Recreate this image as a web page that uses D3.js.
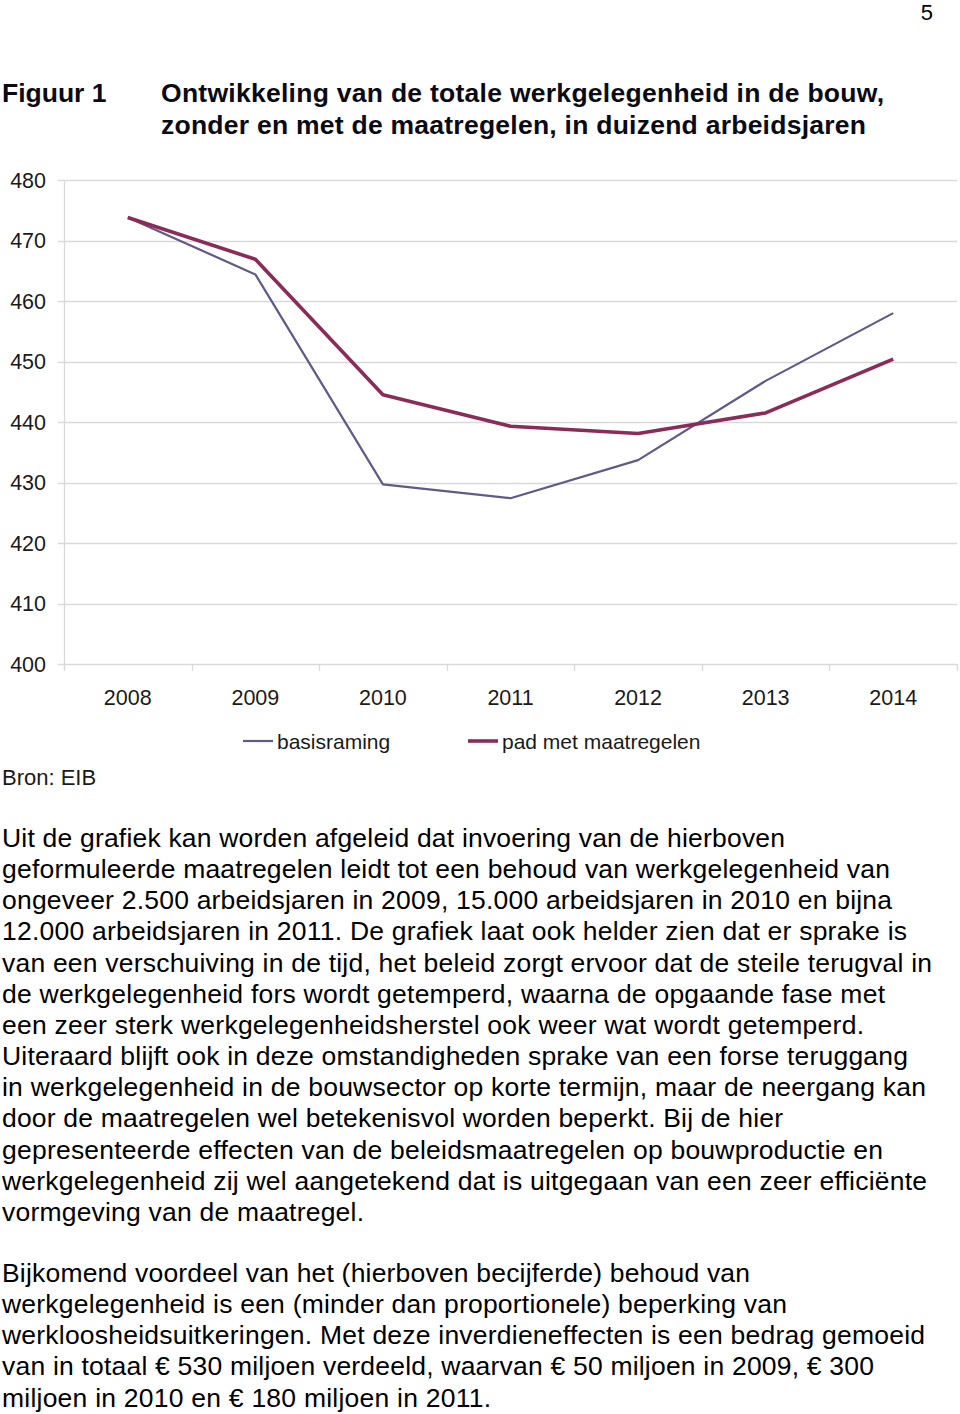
<!DOCTYPE html>
<html>
<head>
<meta charset="utf-8">
<script src="https://cdn.jsdelivr.net/npm/d3@7"></script>
<style>
html,body{margin:0;padding:0;background:#fff;}
svg{display:block;font-family:"Liberation Sans",Arial,sans-serif;}
</style>
</head>
<body>
<svg id="page" width="960" height="1414"></svg>
<script>
// ---- data ----
const years = ["2008","2009","2010","2011","2012","2013","2014"];
const basisraming = [473.8, 464.4, 429.7, 427.4, 433.7, 446.8, 458.0];
const padMetMaatregelen = [473.8, 466.9, 444.5, 439.3, 438.1, 441.5, 450.4];
const yTicks = [400, 410, 420, 430, 440, 450, 460, 470, 480];
const seriesNames = ["basisraming", "pad met maatregelen"];

const titleLines = ["Ontwikkeling van de totale werkgelegenheid in de bouw,",
                    "zonder en met de maatregelen, in duizend arbeidsjaren"];
const para1 = [
 "Uit de grafiek kan worden afgeleid dat invoering van de hierboven",
 "geformuleerde maatregelen leidt tot een behoud van werkgelegenheid van",
 "ongeveer 2.500 arbeidsjaren in 2009, 15.000 arbeidsjaren in 2010 en bijna",
 "12.000 arbeidsjaren in 2011. De grafiek laat ook helder zien dat er sprake is",
 "van een verschuiving in de tijd, het beleid zorgt ervoor dat de steile terugval in",
 "de werkgelegenheid fors wordt getemperd, waarna de opgaande fase met",
 "een zeer sterk werkgelegenheidsherstel ook weer wat wordt getemperd.",
 "Uiteraard blijft ook in deze omstandigheden sprake van een forse teruggang",
 "in werkgelegenheid in de bouwsector op korte termijn, maar de neergang kan",
 "door de maatregelen wel betekenisvol worden beperkt. Bij de hier",
 "gepresenteerde effecten van de beleidsmaatregelen op bouwproductie en",
 "werkgelegenheid zij wel aangetekend dat is uitgegaan van een zeer efficiënte",
 "vormgeving van de maatregel."
];
const para2 = [
 "Bijkomend voordeel van het (hierboven becijferde) behoud van",
 "werkgelegenheid is een (minder dan proportionele) beperking van",
 "werkloosheidsuitkeringen. Met deze inverdieneffecten is een bedrag gemoeid",
 "van in totaal € 530 miljoen verdeeld, waarvan € 50 miljoen in 2009, € 300",
 "miljoen in 2010 en € 180 miljoen in 2011."
];
// layout: right edges of text lines in the page
const titleRight = [884, 866];
const para1Right = [785, 890, 892, 907, 932, 885, 864, 908, 926, 783, 883, 927, 364];
const para2Right = [750, 787, 925, 874, 491];

// ---- drawing ----
const svg = d3.select("#page");

svg.append("text").attr("x", 933).attr("y", 20).attr("text-anchor", "end")
  .attr("font-size", 22).attr("fill", "#000").text("5");

svg.append("text").attr("x", 2).attr("y", 102).attr("font-size", 26.5)
  .attr("font-weight", "bold").attr("fill", "#0a0a14").text("Figuur 1");
titleLines.forEach((t, i) => {
  svg.append("text").attr("x", 161).attr("y", 102 + i * 32).attr("font-size", 26.5)
    .attr("font-weight", "bold").attr("fill", "#0a0a14")
    .attr("textLength", titleRight[i] - 161).attr("lengthAdjust", "spacing")
    .text(t);
});

const x = d3.scaleBand().domain(years).range([64, 957]).paddingInner(0).paddingOuter(0);
const y = d3.scaleLinear().domain([400, 480]).range([664, 180]);

const g = svg.append("g");

// gridlines
g.append("g").selectAll("line").data(yTicks).join("line")
  .attr("x1", 58).attr("x2", 957)
  .attr("y1", d => Math.round(y(d)) + 0.5).attr("y2", d => Math.round(y(d)) + 0.5)
  .attr("stroke", "#d9d9d9").attr("stroke-width", 1.3);

// y axis line
g.append("line").attr("x1", 64.5).attr("x2", 64.5).attr("y1", y(480)).attr("y2", 670)
  .attr("stroke", "#d9d9d9").attr("stroke-width", 1.3);

// y tick labels
g.append("g").selectAll("text").data(yTicks).join("text")
  .attr("x", 46).attr("y", d => y(d)).attr("dy", "0.36em")
  .attr("text-anchor", "end").attr("font-size", 21.5).attr("fill", "#1a1a1a")
  .text(d => d);

// x ticks at band boundaries
const bounds = years.map(d => x(d)).concat([x(years[years.length - 1]) + x.bandwidth()]);
g.append("g").selectAll("line").data(bounds).join("line")
  .attr("x1", d => Math.round(d) + 0.5).attr("x2", d => Math.round(d) + 0.5)
  .attr("y1", y(400)).attr("y2", y(400) + 7)
  .attr("stroke", "#d9d9d9").attr("stroke-width", 1.3);

// x labels
g.append("g").selectAll("text").data(years).join("text")
  .attr("x", d => x(d) + x.bandwidth() / 2).attr("y", 697).attr("dy", "0.36em")
  .attr("text-anchor", "middle").attr("font-size", 21.5).attr("fill", "#1a1a1a")
  .text(d => d);

const colors = ["#5f5b87", "#8a2b58"];
const widths = [2.2, 3.6];
const line = d3.line().x((d, i) => x(years[i]) + x.bandwidth() / 2).y(d => y(d));

[basisraming, padMetMaatregelen].forEach((s, k) => {
  g.append("path").datum(s).attr("d", line).attr("fill", "none")
    .attr("stroke", colors[k]).attr("stroke-width", widths[k])
    .attr("stroke-linejoin", "round").attr("stroke-linecap", "butt");
});

// legend
const legX = [243, 468];
seriesNames.forEach((n, k) => {
  g.append("line").attr("x1", legX[k]).attr("x2", legX[k] + 30)
    .attr("y1", 741).attr("y2", 741).attr("stroke", colors[k]).attr("stroke-width", widths[k]);
  g.append("text").attr("x", legX[k] + 34).attr("y", 741).attr("dy", "0.36em")
    .attr("font-size", 21).attr("fill", "#1a1a1a").text(n);
});

svg.append("text").attr("x", 2).attr("y", 777).attr("dy", "0.36em")
  .attr("font-size", 22).attr("fill", "#1a1a1a").text("Bron: EIB");

// body text
function para(lines, rights, y0) {
  lines.forEach((t, i) => {
    svg.append("text").attr("x", 2).attr("y", y0 + i * 31.15)
      .attr("font-size", 26.5).attr("fill", "#000")
      .attr("textLength", rights[i] - 2).attr("lengthAdjust", "spacing")
      .text(t);
  });
}
para(para1, para1Right, 847);
para(para2, para2Right, 1282);
</script>
</body>
</html>
